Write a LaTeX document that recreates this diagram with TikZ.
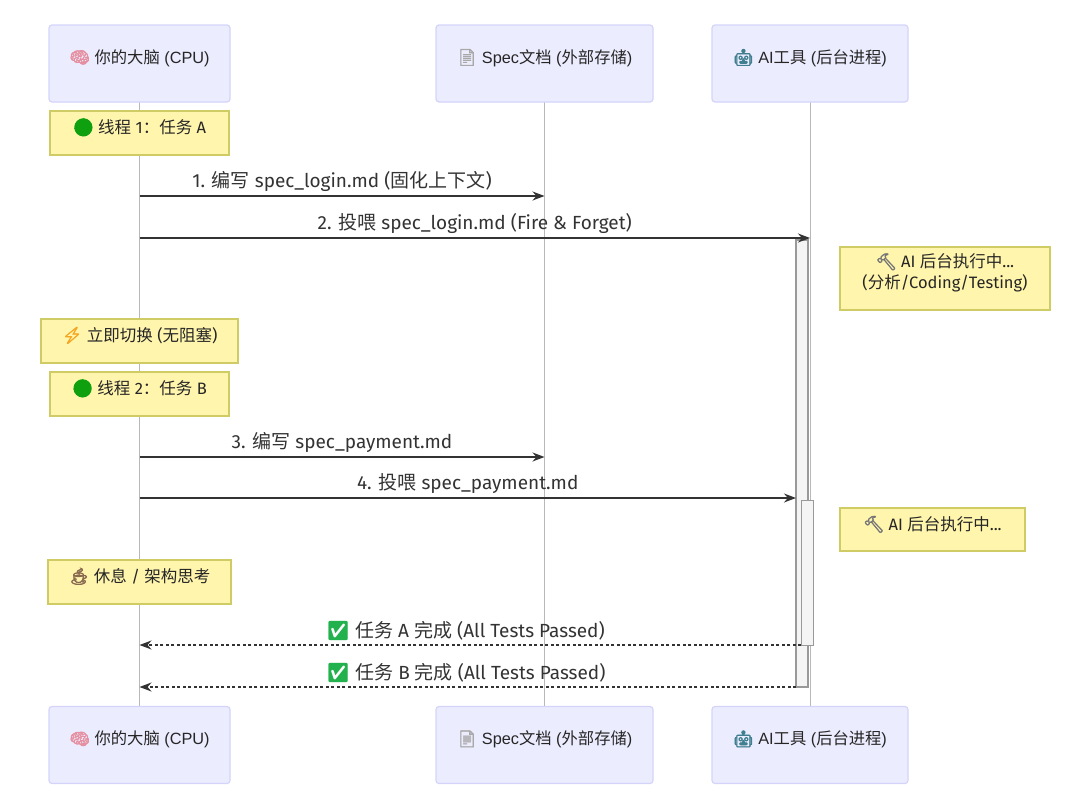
\documentclass[tikz,border=0pt]{standalone}
\usepackage{fontspec}
\setmainfont{Liberation Sans}
\newfontfamily\cjkfont{Noto Sans CJK SC}
\newfontfamily\msgfont{Fira Sans}
\newfontfamily\emojifont{Noto Emoji}
\newfontfamily\emojisolid[FakeBold=3]{Noto Emoji}
\newfontfamily\emojifull[FakeBold=9]{Noto Emoji}
\usetikzlibrary{positioning,arrows.meta,calc,backgrounds}
\definecolor{actorfill}{HTML}{ECECFF}
\definecolor{actorline}{HTML}{D4D4FB}
\definecolor{notefill}{HTML}{FFF5AD}
\definecolor{noteline}{HTML}{CFCC66}
\definecolor{lifeline}{HTML}{B8B8B8}
\definecolor{barfill}{HTML}{F4F4F4}
\definecolor{barline}{HTML}{999999}
\definecolor{inktext}{HTML}{333333}
\newcommand{\zh}[1]{{\cjkfont #1}}
\newcommand{\emo}[2]{{\emojisolid\textcolor[HTML]{#1}{#2}}}
\newcommand{\dotgreen}{{\emojifull\textcolor[HTML]{0FA00F}{🟢}}}

\begin{document}
\begin{tikzpicture}[
   x=1pt, y=-1pt,
   actor/.style={draw=actorline, line width=1.2pt, fill=actorfill, rounded corners=3pt,
                 inner sep=0pt, outer sep=0pt, minimum height=77pt, text=black!85,
                 text height=12pt, text depth=13pt, font=\fontsize{16.3}{19}\selectfont},
   note/.style={draw=noteline, line width=1.2pt, fill=notefill, inner sep=0pt, outer sep=0pt,
                minimum height=44pt, text=black!85, align=center, text height=12pt, text depth=12pt,
                font=\msgfont\fontsize{16.5}{21}\selectfont},
   life/.style={draw=lifeline, line width=0.8pt},
   bar/.style={draw=barline, line width=1.2pt, fill=barfill, inner sep=0pt, outer sep=0pt},
   msg/.style={draw=inktext, line width=1.5pt, -{Stealth[length=12pt,width=9pt]}},
   reply/.style={msg, dash pattern=on 3pt off 2.5pt},
   msglabel/.style={midway, above=3.5pt, inner sep=0pt, text=inktext,
                    font=\msgfont\fontsize{19}{22}\selectfont}]
  \useasboundingbox (0,0) rectangle (1080,803);

  % actors top and bottom
  \node[actor, minimum width=181pt] (brain) at (139.5,63.5) {\emo{E58FA0}{🧠} \zh{你的大脑} (CPU)};
  \node[actor, minimum width=217pt] (spec) at (544.5,63.5) {\emo{A8A8A8}{📄} Spec\zh{文档} (\zh{外部存储})};
  \node[actor, minimum width=196pt] (tool) at (810,63.5) {\emo{3F7F8F}{🤖} AI\zh{工具} (\zh{后台进程})};
  \node[actor, minimum width=181pt] (brainend) at (139.5,745) {\emo{E58FA0}{🧠} \zh{你的大脑} (CPU)};
  \node[actor, minimum width=217pt] (specend) at (544.5,745) {\emo{A8A8A8}{📄} Spec\zh{文档} (\zh{外部存储})};
  \node[actor, minimum width=196pt] (toolend) at (810,745) {\emo{3F7F8F}{🤖} AI\zh{工具} (\zh{后台进程})};

  \begin{scope}[on background layer]
    \fill[white] (0,0) rectangle (1080,803);
    \draw[life] (brain) -- (brainend);
    \draw[life] (spec) -- (specend);
    \draw[life] (tool) -- (toolend);
  \end{scope}

  % notes
  \node[note, minimum width=179pt] (threada) at (139.5,133) {\dotgreen{} \zh{线程} 1\zh{：任务} A};
  \node[note, minimum width=197pt] (switch) at (139.5,341) {\emo{F5A623}{⚡} \zh{立即切换} (\zh{无阻塞})};
  \node[note, minimum width=179pt] (threadb) at (139.5,394) {\dotgreen{} \zh{线程} 2\zh{：任务} B};
  \node[note, minimum width=183pt] (rest) at (139.5,582) {\emo{8A6A4F}{☕} \zh{休息} / \zh{架构思考}};
  \node[note, minimum width=210pt, minimum height=63pt, text height=24pt, text depth=4pt] (runa) at (945,278.5)
     {\emo{777777}{🔨} AI \zh{后台执行中}...\\(\zh{分析}/Coding/Testing)};
  \node[note, minimum width=185pt, minimum height=43pt, text depth=11pt] (runb) at (932.5,529.5) {\emo{777777}{🔨} AI \zh{后台执行中}...};

  % activation bars
  \node[bar, minimum width=12pt, minimum height=447pt] (bara) at (802,463.5) {};
  \node[bar, minimum width=12.5pt, minimum height=144.5pt] (barb) at (807.5,573) {};

  % message rows
  \coordinate (rowa) at (0,196);
  \coordinate (rowb) at (0,238);
  \coordinate (rowc) at (0,457);
  \coordinate (rowd) at (0,498);
  \coordinate (rowe) at (0,645);
  \coordinate (rowf) at (0,687);

  \draw[msg] (brain |- rowa) -- (spec |- rowa)
     node[msglabel] (msga) {1. \zh{编写} spec\_login.md (\zh{固化上下文})};
  \draw[msg] (brain |- rowb) -- (tool |- rowb)
     node[msglabel] (msgb) {2. \zh{投喂} spec\_login.md (Fire \& Forget)};
  \draw[msg] (brain |- rowc) -- (spec |- rowc)
     node[msglabel] (msgc) {3. \zh{编写} spec\_payment.md};
  \draw[msg] (brain |- rowd) -- (bara.west |- rowd)
     node[msglabel] (msgd) {4. \zh{投喂} spec\_payment.md};
  \draw[reply] (barb.west |- rowe) -- (brain |- rowe)
     node[msglabel, xshift=-5pt] (msge) {{\emojifont\textcolor[HTML]{22B14C}{✅}} \zh{任务} A \zh{完成} (All Tests Passed)};
  \draw[reply] (bara.west |- rowf) -- (brain |- rowf)
     node[msglabel, xshift=-2pt] (msgf) {{\emojifont\textcolor[HTML]{22B14C}{✅}} \zh{任务} B \zh{完成} (All Tests Passed)};
\end{tikzpicture}
\end{document}
